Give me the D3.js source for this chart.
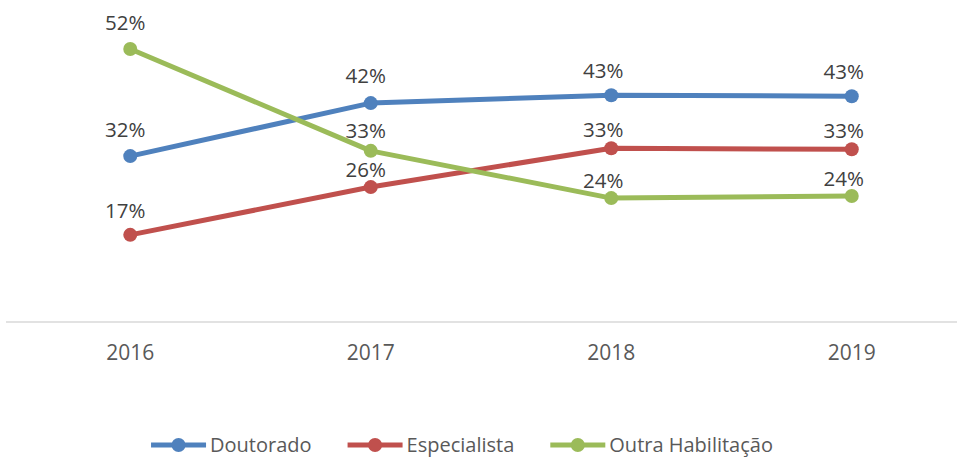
<!DOCTYPE html>
<html>
<head>
<meta charset="utf-8">
<script src="https://cdn.jsdelivr.net/npm/d3@7"></script>
<style>
  html, body { margin: 0; padding: 0; background: #fff; }
  .canvas { width: 957px; height: 457px; }
  text { font-family: 'Open Sans', 'Noto Sans', sans-serif; }
</style>
</head>
<body>
<div class="canvas"></div>
<script>
const years = ['2016', '2017', '2018', '2019'];
const seriesNames = ['Doutorado', 'Especialista', 'Outra Habilitação'];
const doutorado = [0.316, 0.417, 0.432, 0.430];
const especialista = [0.166, 0.257, 0.331, 0.329];
const outraHabilitacao = [0.520, 0.326, 0.236, 0.240];

const COLOR = {
  blue: '#4F81BD',
  red: '#C0504D',
  green: '#9BBB59',
  axis: '#D9D9D9',
  tick: '#595959',
  label: '#404040',
};

const series = [
  { name: seriesNames[0], values: doutorado, color: COLOR.blue, lift: [19, 20, 17, 17] },
  { name: seriesNames[1], values: especialista, color: COLOR.red, lift: [17, 10, 11, 11] },
  { name: seriesNames[2], values: outraHabilitacao, color: COLOR.green, lift: [19, 13, 10, 10] },
];

const width = 957;
const height = 457;

const svg = d3
  .select('.canvas')
  .append('svg')
  .attr('width', width)
  .attr('height', height);

const x = d3.scaleBand().domain(years).range([10, 972]);
const y = d3.scaleLinear().domain([0, 0.6]).range([322, 7]);
const fmt = d3.format('.0%');

// category axis
const xAxis = svg
  .append('g')
  .attr('transform', `translate(0,${y(0)})`)
  .call(d3.axisBottom(x).tickSize(0).tickPadding(23));
xAxis.select('.domain').remove();
xAxis
  .append('line')
  .attr('x1', 6)
  .attr('x2', width)
  .attr('stroke', COLOR.axis)
  .attr('stroke-width', 1.5);
xAxis
  .selectAll('.tick text')
  .attr('fill', COLOR.tick)
  .attr('font-size', 21)
  .attr('font-family', "'Open Sans', 'Noto Sans', sans-serif");

const cx = d => x(d) + x.bandwidth() / 2;

const line = d3
  .line()
  .x((d, i) => cx(years[i]))
  .y(d => y(d));

const groups = svg
  .append('g')
  .attr('id', 'seriesGroups')
  .selectAll('g')
  .data(series)
  .join('g');

groups
  .append('path')
  .attr('d', d => line(d.values))
  .attr('fill', 'none')
  .attr('stroke', d => d.color)
  .attr('stroke-width', 5)
  .attr('stroke-linejoin', 'round');

groups
  .selectAll('circle')
  .data(d => d.values.map((v, i) => ({ v, i, color: d.color })))
  .join('circle')
  .attr('cx', d => cx(years[d.i]))
  .attr('cy', d => y(d.v))
  .attr('r', 7)
  .attr('fill', d => d.color);

// data labels drawn above every series
svg
  .append('g')
  .selectAll('g')
  .data(series)
  .join('g')
  .selectAll('text')
  .data(d => d.values.map((v, i) => ({ v, i, lift: d.lift[i] })))
  .join('text')
  .attr('x', d => cx(years[d.i]) - (d.i < 2 ? 5 : 8))
  .attr('y', d => y(d.v) - d.lift)
  .attr('text-anchor', 'middle')
  .attr('font-size', 20.5)
  .attr('fill', COLOR.label)
  .text(d => fmt(d.v));

// legend
const legend = svg.append('g').attr('transform', 'translate(0,445)');
const items = legend
  .selectAll('g')
  .data(series)
  .join('g');

items
  .append('line')
  .attr('x1', 0)
  .attr('x2', 55)
  .attr('stroke', d => d.color)
  .attr('stroke-width', 5);
items
  .append('circle')
  .attr('cx', 27.5)
  .attr('r', 7)
  .attr('fill', d => d.color);
items
  .append('text')
  .attr('x', 59)
  .attr('dy', '0.35em')
  .attr('font-size', 20)
  .attr('fill', COLOR.tick)
  .text(d => d.name);

let offset = 0;
const widths = [];
items.each(function () {
  const w = 59 + d3.select(this).select('text').node().getComputedTextLength();
  widths.push(w);
});
const gap = 36;
const total = d3.sum(widths) + gap * (widths.length - 1);
offset = 462 - total / 2;
items.attr('transform', (d, i) => {
  const t = `translate(${offset},0)`;
  offset += widths[i] + gap;
  return t;
});
</script>
</body>
</html>
